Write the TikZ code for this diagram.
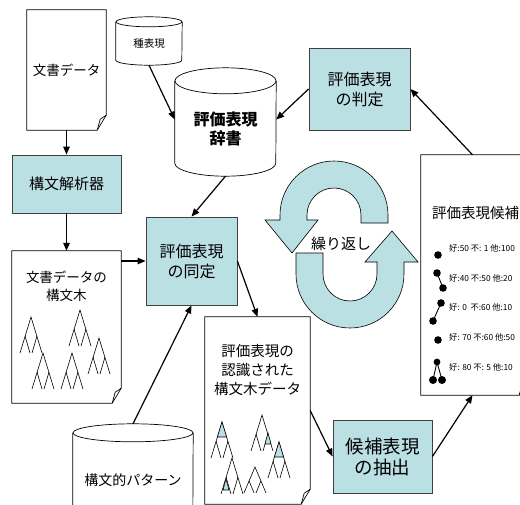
\documentclass[tikz,border=0pt]{standalone}
\usepackage{fontspec}
\setmainfont{Noto Sans CJK JP}
\usepackage{xcolor}
\usetikzlibrary{arrows.meta}

\definecolor{boxfill}{RGB}{187,224,228}

\tikzset{
	proc/.style={draw=black!75, line width=0.8pt, fill=boxfill, align=center, inner sep=0pt},
	sheet/.style={align=center, inner sep=0pt},
	drum/.style={align=center, inner sep=0pt},
	flow/.style={-{Triangle[length=8pt,width=6.5pt]}, line width=1.2pt},
	row/.style={anchor=west, inner sep=0pt, font=\fontsize{8.3}{10}\selectfont},
	stree/.pic={
		\draw[line width=0.6pt] (-11,36) -- (0,0) -- (11,36);
		\draw[line width=0.6pt] (-6,19) -- (-1,36);
		\draw[line width=0.6pt] (6,19) -- (1,36);
	},
	hltop/.pic={
		\filldraw[fill=boxfill, line width=0.6pt] (0,0) -- (-4.6,15) -- (4.6,15) -- cycle;
	},
	hlmark/.pic={
		\filldraw[fill=boxfill, line width=0.6pt] (0,0) -- (-3,11) -- (3,11) -- cycle;
	},
}

% sheet of paper with a curled corner, drawn round a node
\newcommand\sheetframe[1]{
	\draw[line width=0.7pt] (#1.south west) -- (#1.north west) -- (#1.north east)
		-- ([yshift=15pt]#1.south east) -- ([xshift=-9pt]#1.south east) -- cycle;
	\draw[line width=0.7pt] ([xshift=-9pt]#1.south east) -- ([xshift=-6pt,yshift=11pt]#1.south east)
		-- ([yshift=15pt]#1.south east);
}

% drum (database) round a node: #2 = x radius, #3 = y radius of the lids
\newcommand\drumframe[3]{
	\draw[line width=0.7pt] (#1.north west) -- ([yshift=#3pt]#1.south west)
		arc[start angle=180, end angle=360, x radius=#2pt, y radius=#3pt] -- (#1.north east);
	\draw[line width=0.7pt] (#1.north) ellipse[x radius=#2pt, y radius=#3pt];
}

\begin{document}
\begin{tikzpicture}[x=1pt, y=-1pt]
	\useasboundingbox (0,0) rectangle (520,504);
	\clip (0,0) rectangle (520,504);

	% left column
	\node[sheet, minimum width=79pt, minimum height=120pt, font=\fontsize{13.5}{17}\selectfont] (doc) at (66.5,70) {文書データ};
	\sheetframe{doc}
	\node[proc, minimum width=109pt, minimum height=58pt, font=\fontsize{15}{19}\selectfont] (parser) at (66.5,184) {構文解析器};
	\node[sheet, minimum width=109pt, minimum height=152pt] (treedoc) at (66.5,327) {};
	\sheetframe{treedoc}
	\node[align=center, font=\fontsize{13.5}{18}\selectfont] (treelabel) at (66.5,286) {文書データの\\構文木};
	\pic at (31,317) {stree};
	\pic at (80,310) {stree};
	\pic at (99,338) {stree};
	\pic at (43,353) {stree};
	\pic at (72,353) {stree};

	% dictionaries
	\node[drum, minimum width=66pt, minimum height=43pt, font=\fontsize{10.5}{13}\selectfont] (seed) at (149,43.5) {種表現};
	\drumframe{seed}{33}{5}
	\node[drum, minimum width=101pt, minimum height=95pt, font=\bfseries\fontsize{16}{19}\selectfont] (dict) at (225.5,128.5) {評価表現\\辞書};
	\drumframe{dict}{50.5}{13}
	\node[drum, minimum width=120pt, minimum height=94pt, font=\fontsize{14}{17}\selectfont] (pattern) at (133,480) {構文的パターン};
	\drumframe{pattern}{60}{9}

	% processing steps
	\node[proc, minimum width=101pt, minimum height=82pt, font=\fontsize{16}{20}\selectfont] (judge) at (359.5,89) {評価表現\\の判定};
	\node[proc, minimum width=91pt, minimum height=88pt, font=\fontsize{16}{20}\selectfont] (identify) at (191.5,261) {評価表現\\の同定};
	\node[proc, minimum width=99pt, minimum height=73pt, font=\fontsize{18.5}{21}\selectfont] (extract) at (382.5,456.5) {候補表現\\の抽出};

	% marked parse trees
	\node[sheet, minimum width=105pt, minimum height=187pt] (recdoc) at (257.5,410.5) {};
	\sheetframe{recdoc}
	\node[align=center, font=\fontsize{14.5}{19}\selectfont] (reclabel) at (257.5,370) {評価表現の\\認識された\\構文木データ};
	\pic at (222,422) {stree};
	\pic at (222,422) {hltop};
	\pic at (262,415) {stree};
	\pic at (268,433) {hlmark};
	\pic at (279,442) {stree};
	\pic at (279,442) {hltop};
	\pic at (232,458) {stree};
	\pic at (226,479) {hlmark};
	\pic[yscale=0.72] at (255,467) {stree};

	% candidate list
	\node[sheet, minimum width=107pt, minimum height=240pt] (canddoc) at (474.5,275) {};
	\sheetframe{canddoc}
	\node[anchor=west, inner sep=0pt, font=\fontsize{14.5}{17}\selectfont] (candtitle) at (432,213) {評価表現候補};
	\node[row] (c1) at (449,248) {好:50 不: 1 他:100};
	\node[row] (c2) at (449,278) {好:40 不:50 他:20};
	\node[row] (c3) at (449,307) {好: 0 \ 不:60 他:10};
	\node[row] (c4) at (449,337) {好: 70 不:60 他:50};
	\node[row] (c5) at (449,367) {好: 80 不: 5 他:10};
	\draw[line width=0.9pt] (437,273) -- (443,288);
	\draw[line width=0.9pt] (441,303) -- (433,321);
	\draw[line width=0.9pt] (433,380) -- (437,362) -- (442,380);
	\fill (438,255) circle[radius=3.8pt];
	\fill (437,273) circle[radius=3.8pt] (443,288) circle[radius=3.8pt];
	\fill (441,303) circle[radius=3.8pt] (433,321) circle[radius=3.8pt];
	\fill (438,340) circle[radius=3.8pt];
	\fill (437,362) circle[radius=3.4pt] (433,380) circle[radius=4pt] (442,380) circle[radius=4pt];

	% loop arrows
	\filldraw[fill=boxfill, line width=0.6pt] (388,223) -- (388,215) arc[start angle=0, end angle=180, radius=54pt]
		-- (280,220) -- (265,220) -- (292,253) -- (318,220) -- (307,220) -- (307,215)
		arc[start angle=180, end angle=0, radius=27pt] -- (361,223) -- cycle;
	\filldraw[fill=boxfill, line width=0.6pt] (296,253) -- (296,274) arc[start angle=180, end angle=360, radius=54pt]
		-- (404,262) -- (418,262) -- (392,231) -- (365,262) -- (377,262) -- (377,274)
		arc[start angle=360, end angle=180, radius=27pt] -- (323,253) -- cycle;
	\node[font=\fontsize{15}{18}\selectfont] (loop) at (341,244) {繰り返し};

	% flows
	\draw[flow] (doc.south) -- (parser.north);
	\draw[flow] (parser.south) -- (treedoc.north);
	\draw[flow] (seed.south) -- (dict.170);
	\draw[flow] (judge.west) -- (dict.10);
	\draw[flow] (canddoc.north -| 472.5,0) -- (judge.east);
	\draw[flow] (dict.south) -- (identify.north);
	\draw[flow] (treedoc.east |- identify.west) -- (identify.west);
	\draw[flow] ([yshift=9pt]pattern.north) -- (identify.south);
	\draw[flow] (identify.east) -- (recdoc.north);
	\draw[flow] (recdoc.east) -- (extract.west);
	\draw[flow] (extract.east) -- (canddoc.south -| 472.5,0);
\end{tikzpicture}
\end{document}
